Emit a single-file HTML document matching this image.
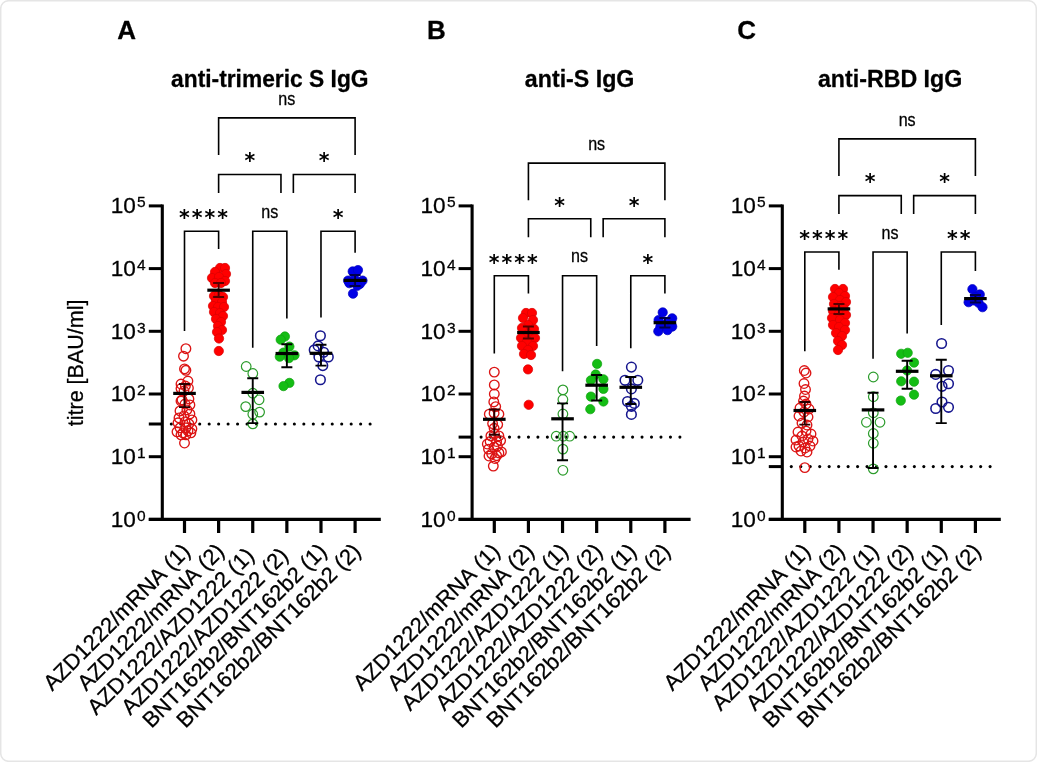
<!DOCTYPE html>
<html><head><meta charset="utf-8"><title>Antibody titres</title>
<style>html,body{margin:0;padding:0;background:#fff;}body{width:1037px;height:762px;position:relative;overflow:hidden;}svg text{stroke:#000;stroke-width:0.28px;stroke-linejoin:round;}svg text.ast{stroke:none;}</style>
</head><body>
<svg width="1037" height="762" viewBox="0 0 1037 762" style="position:absolute;left:0;top:0;will-change:transform">
<rect x="0.7" y="0.7" width="1035.6" height="760.6" rx="8" ry="8" fill="#fff" stroke="#e5e5e5" stroke-width="1.5"/>
<line x1="162.3" y1="204.5" x2="162.3" y2="520.9" stroke="#000" stroke-width="3.1"/>
<line x1="148.8" y1="519.4" x2="162.3" y2="519.4" stroke="#000" stroke-width="3"/>
<text x="145.7" y="526.8" text-anchor="end" font-size="22.6" font-family="'Liberation Sans', Arial, sans-serif">10<tspan font-size="15.5" dx="1.3" dy="-6.1">0</tspan></text>
<line x1="148.8" y1="456.7" x2="162.3" y2="456.7" stroke="#000" stroke-width="3"/>
<text x="145.7" y="464.1" text-anchor="end" font-size="22.6" font-family="'Liberation Sans', Arial, sans-serif">10<tspan font-size="15.5" dx="1.3" dy="-6.1">1</tspan></text>
<line x1="148.8" y1="394" x2="162.3" y2="394" stroke="#000" stroke-width="3"/>
<text x="145.7" y="401.4" text-anchor="end" font-size="22.6" font-family="'Liberation Sans', Arial, sans-serif">10<tspan font-size="15.5" dx="1.3" dy="-6.1">2</tspan></text>
<line x1="148.8" y1="331.3" x2="162.3" y2="331.3" stroke="#000" stroke-width="3"/>
<text x="145.7" y="338.7" text-anchor="end" font-size="22.6" font-family="'Liberation Sans', Arial, sans-serif">10<tspan font-size="15.5" dx="1.3" dy="-6.1">3</tspan></text>
<line x1="148.8" y1="268.6" x2="162.3" y2="268.6" stroke="#000" stroke-width="3"/>
<text x="145.7" y="276" text-anchor="end" font-size="22.6" font-family="'Liberation Sans', Arial, sans-serif">10<tspan font-size="15.5" dx="1.3" dy="-6.1">4</tspan></text>
<line x1="148.8" y1="205.9" x2="162.3" y2="205.9" stroke="#000" stroke-width="3"/>
<text x="145.7" y="213.3" text-anchor="end" font-size="22.6" font-family="'Liberation Sans', Arial, sans-serif">10<tspan font-size="15.5" dx="1.3" dy="-6.1">5</tspan></text>
<line x1="148.8" y1="424" x2="162.3" y2="424" stroke="#000" stroke-width="3"/>
<line x1="148.8" y1="519.4" x2="380.8" y2="519.4" stroke="#000" stroke-width="3.1"/>
<line x1="184.5" y1="519.4" x2="184.5" y2="533" stroke="#000" stroke-width="3.2"/>
<line x1="218.62" y1="519.4" x2="218.62" y2="533" stroke="#000" stroke-width="3.2"/>
<line x1="252.74" y1="519.4" x2="252.74" y2="533" stroke="#000" stroke-width="3.2"/>
<line x1="286.86" y1="519.4" x2="286.86" y2="533" stroke="#000" stroke-width="3.2"/>
<line x1="320.98" y1="519.4" x2="320.98" y2="533" stroke="#000" stroke-width="3.2"/>
<line x1="355.1" y1="519.4" x2="355.1" y2="533" stroke="#000" stroke-width="3.2"/>
<text transform="translate(191.4,552.6) rotate(-45)" text-anchor="end" font-size="22" font-family="'Liberation Sans', Arial, sans-serif" style="font-kerning:none">AZD1222/mRNA (1)</text>
<text transform="translate(225.52,552.6) rotate(-45)" text-anchor="end" font-size="22" font-family="'Liberation Sans', Arial, sans-serif" style="font-kerning:none">AZD1222/mRNA (2)</text>
<text transform="translate(255.33,556.91) rotate(-45)" text-anchor="end" font-size="22" font-family="'Liberation Sans', Arial, sans-serif" style="font-kerning:none">AZD1222/AZD1222 (1)</text>
<text transform="translate(289.45,556.91) rotate(-45)" text-anchor="end" font-size="22" font-family="'Liberation Sans', Arial, sans-serif" style="font-kerning:none">AZD1222/AZD1222 (2)</text>
<text transform="translate(327.88,552.6) rotate(-45)" text-anchor="end" font-size="22" font-family="'Liberation Sans', Arial, sans-serif" style="font-kerning:none">BNT162b2/BNT162b2 (1)</text>
<text transform="translate(362,552.6) rotate(-45)" text-anchor="end" font-size="22" font-family="'Liberation Sans', Arial, sans-serif" style="font-kerning:none">BNT162b2/BNT162b2 (2)</text>
<g fill="#000"><circle cx="171.3" cy="424" r="1.55"/><circle cx="180.77" cy="424" r="1.55"/><circle cx="190.23" cy="424" r="1.55"/><circle cx="199.7" cy="424" r="1.55"/><circle cx="209.17" cy="424" r="1.55"/><circle cx="218.64" cy="424" r="1.55"/><circle cx="228.1" cy="424" r="1.55"/><circle cx="237.57" cy="424" r="1.55"/><circle cx="247.04" cy="424" r="1.55"/><circle cx="256.5" cy="424" r="1.55"/><circle cx="265.97" cy="424" r="1.55"/><circle cx="275.44" cy="424" r="1.55"/><circle cx="284.9" cy="424" r="1.55"/><circle cx="294.37" cy="424" r="1.55"/><circle cx="303.84" cy="424" r="1.55"/><circle cx="313.31" cy="424" r="1.55"/><circle cx="322.77" cy="424" r="1.55"/><circle cx="332.24" cy="424" r="1.55"/><circle cx="341.71" cy="424" r="1.55"/><circle cx="351.17" cy="424" r="1.55"/><circle cx="360.64" cy="424" r="1.55"/><circle cx="370.11" cy="424" r="1.55"/></g>
<g fill="none" stroke="#dc1414" stroke-width="1.35"><circle cx="185.9" cy="348.7" r="4.8"/><circle cx="183.5" cy="356.2" r="4.8"/><circle cx="184.5" cy="368.9" r="4.8"/><circle cx="185.9" cy="370.3" r="4.8"/><circle cx="187.9" cy="381" r="4.8"/><circle cx="181" cy="384" r="4.8"/><circle cx="185.4" cy="386" r="4.8"/><circle cx="188.4" cy="388" r="4.8"/><circle cx="181" cy="388.5" r="4.8"/><circle cx="184" cy="391" r="4.8"/><circle cx="182" cy="399.9" r="4.8"/><circle cx="188.9" cy="398.9" r="4.8"/><circle cx="181" cy="401" r="4.8"/><circle cx="189.9" cy="404.9" r="4.8"/><circle cx="185" cy="404" r="4.8"/><circle cx="180" cy="410.9" r="4.8"/><circle cx="186.9" cy="409.9" r="4.8"/><circle cx="189.9" cy="413.9" r="4.8"/><circle cx="179" cy="417.9" r="4.8"/><circle cx="184" cy="415.9" r="4.8"/><circle cx="191.9" cy="419.9" r="4.8"/><circle cx="178" cy="422.8" r="4.8"/><circle cx="185" cy="421.9" r="4.8"/><circle cx="188.9" cy="423.8" r="4.8"/><circle cx="180" cy="427.8" r="4.8"/><circle cx="185.9" cy="427.8" r="4.8"/><circle cx="191.9" cy="428.8" r="4.8"/><circle cx="177" cy="431.8" r="4.8"/><circle cx="183" cy="432.8" r="4.8"/><circle cx="190.9" cy="432.8" r="4.8"/><circle cx="188" cy="430.8" r="4.8"/><circle cx="181" cy="434.8" r="4.8"/><circle cx="185.9" cy="434.8" r="4.8"/><circle cx="184.5" cy="443" r="4.8"/></g>
<g fill="#ff0000" stroke="#d80000" stroke-width="0.7"><circle cx="220" cy="268" r="4.65"/><circle cx="225" cy="268" r="4.65"/><circle cx="215" cy="272" r="4.65"/><circle cx="226" cy="274" r="4.65"/><circle cx="212" cy="278" r="4.65"/><circle cx="219" cy="277" r="4.65"/><circle cx="225" cy="281" r="4.65"/><circle cx="215" cy="283" r="4.65"/><circle cx="221" cy="283" r="4.65"/><circle cx="214" cy="296" r="4.65"/><circle cx="219" cy="295" r="4.65"/><circle cx="223" cy="297" r="4.65"/><circle cx="216" cy="300" r="4.65"/><circle cx="222" cy="302" r="4.65"/><circle cx="213" cy="306" r="4.65"/><circle cx="218" cy="307" r="4.65"/><circle cx="224" cy="307" r="4.65"/><circle cx="214" cy="312" r="4.65"/><circle cx="220" cy="313" r="4.65"/><circle cx="223" cy="316" r="4.65"/><circle cx="216" cy="319" r="4.65"/><circle cx="221" cy="322" r="4.65"/><circle cx="218" cy="326" r="4.65"/><circle cx="222" cy="330" r="4.65"/><circle cx="217" cy="332" r="4.65"/><circle cx="219" cy="338.5" r="4.65"/><circle cx="218.8" cy="351" r="4.65"/></g>
<g fill="none" stroke="#2c9c2c" stroke-width="1.2"><circle cx="246.2" cy="366.5" r="4.8"/><circle cx="252.8" cy="373.5" r="4.8"/><circle cx="252.8" cy="393.2" r="4.8"/><circle cx="259.1" cy="399.8" r="4.8"/><circle cx="245.7" cy="406.6" r="4.8"/><circle cx="252.8" cy="414.2" r="4.8"/><circle cx="259.6" cy="412.1" r="4.8"/><circle cx="252.8" cy="423.9" r="4.8"/></g>
<g fill="#14bd14" stroke="#10a010" stroke-width="0.7"><circle cx="284.9" cy="336.5" r="4.65"/><circle cx="280.7" cy="339.7" r="4.65"/><circle cx="289.4" cy="346.6" r="4.65"/><circle cx="283.5" cy="352.6" r="4.65"/><circle cx="279.8" cy="356.7" r="4.65"/><circle cx="294.5" cy="355.3" r="4.65"/><circle cx="289" cy="358.1" r="4.65"/><circle cx="289.4" cy="382.9" r="4.65"/><circle cx="283.5" cy="386.1" r="4.65"/></g>
<g fill="none" stroke="#16168e" stroke-width="1.55"><circle cx="320.4" cy="335.7" r="4.8"/><circle cx="318.1" cy="345.9" r="4.8"/><circle cx="314.2" cy="349.9" r="4.8"/><circle cx="323.6" cy="352.2" r="4.8"/><circle cx="318.9" cy="357" r="4.8"/><circle cx="328.3" cy="357" r="4.8"/><circle cx="322.8" cy="365.6" r="4.8"/><circle cx="320.4" cy="379.7" r="4.8"/></g>
<g fill="#0000e6" stroke="#0000c0" stroke-width="0.7"><circle cx="352.7" cy="271.4" r="4.65"/><circle cx="358" cy="270.1" r="4.65"/><circle cx="348.1" cy="280.6" r="4.65"/><circle cx="362.5" cy="280.6" r="4.65"/><circle cx="354.7" cy="279.3" r="4.65"/><circle cx="349.4" cy="283.2" r="4.65"/><circle cx="359.9" cy="283.9" r="4.65"/><circle cx="357.3" cy="285.8" r="4.65"/><circle cx="353" cy="293.7" r="4.65"/></g>
<path d="M184.5 384V407.1M179 384H190M179 407.1H190" fill="none" stroke="#2a0000" stroke-width="1.9"/>
<line x1="173.2" y1="393.4" x2="195.8" y2="393.4" stroke="#000" stroke-width="3.2"/>
<path d="M218.62 283V297M213.12 283H224.12M213.12 297H224.12" fill="none" stroke="#5a0000" stroke-width="1.9"/>
<line x1="207.32" y1="290.2" x2="229.92" y2="290.2" stroke="#000" stroke-width="3.2"/>
<path d="M252.74 378.3V423.1M247.24 378.3H258.24M247.24 423.1H258.24" fill="none" stroke="#000" stroke-width="1.9"/>
<line x1="241.44" y1="392.4" x2="264.04" y2="392.4" stroke="#000" stroke-width="3.2"/>
<path d="M286.86 344.3V367.3M281.36 344.3H292.36M281.36 367.3H292.36" fill="none" stroke="#000" stroke-width="1.9"/>
<line x1="275.56" y1="353.5" x2="298.16" y2="353.5" stroke="#000" stroke-width="3.2"/>
<path d="M320.98 344.8V365.6M315.48 344.8H326.48M315.48 365.6H326.48" fill="none" stroke="#000" stroke-width="1.9"/>
<line x1="309.68" y1="353.3" x2="332.28" y2="353.3" stroke="#000" stroke-width="3.2"/>
<path d="M355.1 275V286M349.6 275H360.6M349.6 286H360.6" fill="none" stroke="#00004a" stroke-width="1.9"/>
<line x1="343.8" y1="280.4" x2="366.4" y2="280.4" stroke="#000" stroke-width="3.2"/>
<path d="M184.5 330.9V231.2H218.62V248.9" fill="none" stroke="#000" stroke-width="1.6"/>
<path d="M252.74 347.7V231.2H286.86V318.4" fill="none" stroke="#000" stroke-width="1.6"/>
<path d="M320.98 317.4V231.2H355.1V252.8" fill="none" stroke="#000" stroke-width="1.6"/>
<path d="M218.62 193V174.5H280.96V193" fill="none" stroke="#000" stroke-width="1.6"/>
<path d="M293.36 193V174.5H355.1V193" fill="none" stroke="#000" stroke-width="1.6"/>
<path d="M218.62 155.1V117.9H355.1V155.1" fill="none" stroke="#000" stroke-width="1.6"/>
<text class="ast" x="204.46" y="224.9" text-anchor="middle" font-size="20.5" font-weight="bold" font-family="'DejaVu Sans', sans-serif" letter-spacing="2">****</text>
<text transform="translate(269.8,217.7) scale(0.92,1)" text-anchor="middle" font-size="17.5" font-family="'Liberation Sans', Arial, sans-serif">ns</text>
<text class="ast" x="339.04" y="224.9" text-anchor="middle" font-size="20.5" font-weight="bold" font-family="'DejaVu Sans', sans-serif" letter-spacing="2">*</text>
<text class="ast" x="250.79" y="168.2" text-anchor="middle" font-size="20.5" font-weight="bold" font-family="'DejaVu Sans', sans-serif" letter-spacing="2">*</text>
<text class="ast" x="325.23" y="168.2" text-anchor="middle" font-size="20.5" font-weight="bold" font-family="'DejaVu Sans', sans-serif" letter-spacing="2">*</text>
<text transform="translate(286.86,104.9) scale(0.92,1)" text-anchor="middle" font-size="17.5" font-family="'Liberation Sans', Arial, sans-serif">ns</text>
<text x="269.8" y="87.3" text-anchor="middle" font-size="23.2" font-weight="bold" font-family="'Liberation Sans', Arial, sans-serif" textLength="197.5" lengthAdjust="spacingAndGlyphs">anti-trimeric S IgG</text>
<text x="117.3" y="38.9" font-size="26" font-weight="bold" font-family="'Liberation Sans', Arial, sans-serif">A</text>
<line x1="472.1" y1="204.5" x2="472.1" y2="520.9" stroke="#000" stroke-width="3.1"/>
<line x1="458.6" y1="519.4" x2="472.1" y2="519.4" stroke="#000" stroke-width="3"/>
<text x="455.5" y="526.8" text-anchor="end" font-size="22.6" font-family="'Liberation Sans', Arial, sans-serif">10<tspan font-size="15.5" dx="1.3" dy="-6.1">0</tspan></text>
<line x1="458.6" y1="456.7" x2="472.1" y2="456.7" stroke="#000" stroke-width="3"/>
<text x="455.5" y="464.1" text-anchor="end" font-size="22.6" font-family="'Liberation Sans', Arial, sans-serif">10<tspan font-size="15.5" dx="1.3" dy="-6.1">1</tspan></text>
<line x1="458.6" y1="394" x2="472.1" y2="394" stroke="#000" stroke-width="3"/>
<text x="455.5" y="401.4" text-anchor="end" font-size="22.6" font-family="'Liberation Sans', Arial, sans-serif">10<tspan font-size="15.5" dx="1.3" dy="-6.1">2</tspan></text>
<line x1="458.6" y1="331.3" x2="472.1" y2="331.3" stroke="#000" stroke-width="3"/>
<text x="455.5" y="338.7" text-anchor="end" font-size="22.6" font-family="'Liberation Sans', Arial, sans-serif">10<tspan font-size="15.5" dx="1.3" dy="-6.1">3</tspan></text>
<line x1="458.6" y1="268.6" x2="472.1" y2="268.6" stroke="#000" stroke-width="3"/>
<text x="455.5" y="276" text-anchor="end" font-size="22.6" font-family="'Liberation Sans', Arial, sans-serif">10<tspan font-size="15.5" dx="1.3" dy="-6.1">4</tspan></text>
<line x1="458.6" y1="205.9" x2="472.1" y2="205.9" stroke="#000" stroke-width="3"/>
<text x="455.5" y="213.3" text-anchor="end" font-size="22.6" font-family="'Liberation Sans', Arial, sans-serif">10<tspan font-size="15.5" dx="1.3" dy="-6.1">5</tspan></text>
<line x1="458.6" y1="437.1" x2="472.1" y2="437.1" stroke="#000" stroke-width="3"/>
<line x1="458.6" y1="519.4" x2="690.6" y2="519.4" stroke="#000" stroke-width="3.1"/>
<line x1="494.3" y1="519.4" x2="494.3" y2="533" stroke="#000" stroke-width="3.2"/>
<line x1="528.42" y1="519.4" x2="528.42" y2="533" stroke="#000" stroke-width="3.2"/>
<line x1="562.54" y1="519.4" x2="562.54" y2="533" stroke="#000" stroke-width="3.2"/>
<line x1="596.66" y1="519.4" x2="596.66" y2="533" stroke="#000" stroke-width="3.2"/>
<line x1="630.78" y1="519.4" x2="630.78" y2="533" stroke="#000" stroke-width="3.2"/>
<line x1="664.9" y1="519.4" x2="664.9" y2="533" stroke="#000" stroke-width="3.2"/>
<text transform="translate(501.2,552.6) rotate(-45)" text-anchor="end" font-size="22" font-family="'Liberation Sans', Arial, sans-serif" style="font-kerning:none">AZD1222/mRNA (1)</text>
<text transform="translate(535.32,552.6) rotate(-45)" text-anchor="end" font-size="22" font-family="'Liberation Sans', Arial, sans-serif" style="font-kerning:none">AZD1222/mRNA (2)</text>
<text transform="translate(569.44,552.6) rotate(-45)" text-anchor="end" font-size="22" font-family="'Liberation Sans', Arial, sans-serif" style="font-kerning:none">AZD1222/AZD1222 (1)</text>
<text transform="translate(603.56,552.6) rotate(-45)" text-anchor="end" font-size="22" font-family="'Liberation Sans', Arial, sans-serif" style="font-kerning:none">AZD1222/AZD1222 (2)</text>
<text transform="translate(637.68,552.6) rotate(-45)" text-anchor="end" font-size="22" font-family="'Liberation Sans', Arial, sans-serif" style="font-kerning:none">BNT162b2/BNT162b2 (1)</text>
<text transform="translate(671.8,552.6) rotate(-45)" text-anchor="end" font-size="22" font-family="'Liberation Sans', Arial, sans-serif" style="font-kerning:none">BNT162b2/BNT162b2 (2)</text>
<g fill="#000"><circle cx="481.1" cy="437.1" r="1.55"/><circle cx="490.57" cy="437.1" r="1.55"/><circle cx="500.03" cy="437.1" r="1.55"/><circle cx="509.5" cy="437.1" r="1.55"/><circle cx="518.97" cy="437.1" r="1.55"/><circle cx="528.44" cy="437.1" r="1.55"/><circle cx="537.9" cy="437.1" r="1.55"/><circle cx="547.37" cy="437.1" r="1.55"/><circle cx="556.84" cy="437.1" r="1.55"/><circle cx="566.3" cy="437.1" r="1.55"/><circle cx="575.77" cy="437.1" r="1.55"/><circle cx="585.24" cy="437.1" r="1.55"/><circle cx="594.7" cy="437.1" r="1.55"/><circle cx="604.17" cy="437.1" r="1.55"/><circle cx="613.64" cy="437.1" r="1.55"/><circle cx="623.11" cy="437.1" r="1.55"/><circle cx="632.57" cy="437.1" r="1.55"/><circle cx="642.04" cy="437.1" r="1.55"/><circle cx="651.51" cy="437.1" r="1.55"/><circle cx="660.97" cy="437.1" r="1.55"/><circle cx="670.44" cy="437.1" r="1.55"/><circle cx="679.91" cy="437.1" r="1.55"/></g>
<g fill="none" stroke="#dc1414" stroke-width="1.35"><circle cx="494.3" cy="372.1" r="4.8"/><circle cx="494.3" cy="384.9" r="4.8"/><circle cx="494.3" cy="394" r="4.8"/><circle cx="493.8" cy="401.9" r="4.8"/><circle cx="495.7" cy="406.6" r="4.8"/><circle cx="489.3" cy="414.2" r="4.8"/><circle cx="494.1" cy="413.2" r="4.8"/><circle cx="498.9" cy="414.2" r="4.8"/><circle cx="492.6" cy="423.6" r="4.8"/><circle cx="497.7" cy="424.6" r="4.8"/><circle cx="494.1" cy="428.3" r="4.8"/><circle cx="490.9" cy="435.9" r="4.8"/><circle cx="498.9" cy="435.9" r="4.8"/><circle cx="494.5" cy="434" r="4.8"/><circle cx="490.1" cy="441.5" r="4.8"/><circle cx="496.6" cy="441.5" r="4.8"/><circle cx="500.6" cy="440.6" r="4.8"/><circle cx="487.3" cy="444" r="4.8"/><circle cx="488.5" cy="449.1" r="4.8"/><circle cx="494.1" cy="447.2" r="4.8"/><circle cx="501.4" cy="451.9" r="4.8"/><circle cx="497.5" cy="446" r="4.8"/><circle cx="491.7" cy="453.8" r="4.8"/><circle cx="496.6" cy="455.7" r="4.8"/><circle cx="498.9" cy="452.9" r="4.8"/><circle cx="489" cy="456" r="4.8"/><circle cx="494.9" cy="458.5" r="4.8"/><circle cx="493.3" cy="466.1" r="4.8"/></g>
<g fill="#ff0000" stroke="#d80000" stroke-width="0.7"><circle cx="526" cy="313" r="4.65"/><circle cx="532" cy="313" r="4.65"/><circle cx="523" cy="318" r="4.65"/><circle cx="533" cy="320" r="4.65"/><circle cx="528" cy="325" r="4.65"/><circle cx="522" cy="328" r="4.65"/><circle cx="534" cy="329" r="4.65"/><circle cx="528" cy="334" r="4.65"/><circle cx="521" cy="338" r="4.65"/><circle cx="535" cy="338" r="4.65"/><circle cx="527" cy="341" r="4.65"/><circle cx="522" cy="346" r="4.65"/><circle cx="533" cy="346" r="4.65"/><circle cx="528" cy="350" r="4.65"/><circle cx="524" cy="354" r="4.65"/><circle cx="531" cy="355" r="4.65"/><circle cx="528" cy="369.4" r="4.65"/><circle cx="528.7" cy="404.8" r="4.65"/></g>
<g fill="none" stroke="#2c9c2c" stroke-width="1.2"><circle cx="562.9" cy="389.9" r="4.8"/><circle cx="562.9" cy="399.5" r="4.8"/><circle cx="562.9" cy="414" r="4.8"/><circle cx="556.2" cy="436.2" r="4.8"/><circle cx="563.3" cy="436.2" r="4.8"/><circle cx="569.7" cy="436.2" r="4.8"/><circle cx="562.9" cy="449.1" r="4.8"/><circle cx="562.9" cy="470.3" r="4.8"/></g>
<g fill="#14bd14" stroke="#10a010" stroke-width="0.7"><circle cx="597.1" cy="363.9" r="4.65"/><circle cx="595.7" cy="374.5" r="4.65"/><circle cx="590.9" cy="380.3" r="4.65"/><circle cx="603.4" cy="379.3" r="4.65"/><circle cx="603.4" cy="388.9" r="4.65"/><circle cx="590.9" cy="396.6" r="4.65"/><circle cx="603.4" cy="401.5" r="4.65"/><circle cx="590.3" cy="409.2" r="4.65"/></g>
<g fill="none" stroke="#16168e" stroke-width="1.55"><circle cx="631.4" cy="367.1" r="4.8"/><circle cx="625" cy="380.3" r="4.8"/><circle cx="637.8" cy="380.3" r="4.8"/><circle cx="631.4" cy="388.9" r="4.8"/><circle cx="627.5" cy="401.5" r="4.8"/><circle cx="634.3" cy="403.4" r="4.8"/><circle cx="631.4" cy="406.3" r="4.8"/><circle cx="631.4" cy="414.4" r="4.8"/></g>
<g fill="#0000e6" stroke="#0000c0" stroke-width="0.7"><circle cx="662.7" cy="312.4" r="4.65"/><circle cx="658.6" cy="320.1" r="4.65"/><circle cx="672.2" cy="318.3" r="4.65"/><circle cx="666.9" cy="323.6" r="4.65"/><circle cx="672.2" cy="326.6" r="4.65"/><circle cx="660.4" cy="326.6" r="4.65"/><circle cx="658.3" cy="331.3" r="4.65"/><circle cx="667.5" cy="330.1" r="4.65"/></g>
<path d="M494.3 409.5V434.7M488.8 409.5H499.8M488.8 434.7H499.8" fill="none" stroke="#2a0000" stroke-width="1.9"/>
<line x1="483" y1="419.3" x2="505.6" y2="419.3" stroke="#000" stroke-width="3.2"/>
<path d="M528.42 326.5V338.5M522.92 326.5H533.92M522.92 338.5H533.92" fill="none" stroke="#5a0000" stroke-width="1.9"/>
<line x1="517.12" y1="332.5" x2="539.72" y2="332.5" stroke="#000" stroke-width="3.2"/>
<path d="M562.54 403.4V460.3M557.04 403.4H568.04M557.04 460.3H568.04" fill="none" stroke="#000" stroke-width="1.9"/>
<line x1="551.24" y1="418.8" x2="573.84" y2="418.8" stroke="#000" stroke-width="3.2"/>
<path d="M596.66 375V400.5M591.16 375H602.16M591.16 400.5H602.16" fill="none" stroke="#000" stroke-width="1.9"/>
<line x1="585.36" y1="385.2" x2="607.96" y2="385.2" stroke="#000" stroke-width="3.2"/>
<path d="M630.78 377V404M625.28 377H636.28M625.28 404H636.28" fill="none" stroke="#000" stroke-width="1.9"/>
<line x1="619.48" y1="387.3" x2="642.08" y2="387.3" stroke="#000" stroke-width="3.2"/>
<path d="M664.9 318V327.5M659.4 318H670.4M659.4 327.5H670.4" fill="none" stroke="#00004a" stroke-width="1.9"/>
<line x1="653.6" y1="322.7" x2="676.2" y2="322.7" stroke="#000" stroke-width="3.2"/>
<path d="M494.3 353.5V275.8H528.42V293.6" fill="none" stroke="#000" stroke-width="1.6"/>
<path d="M562.54 371.3V275.8H596.66V346.1" fill="none" stroke="#000" stroke-width="1.6"/>
<path d="M630.78 348.2V275.8H664.9V293.6" fill="none" stroke="#000" stroke-width="1.6"/>
<path d="M528.42 237.2V218.7H590.76V237.2" fill="none" stroke="#000" stroke-width="1.6"/>
<path d="M603.16 237.2V218.7H664.9V237.2" fill="none" stroke="#000" stroke-width="1.6"/>
<path d="M528.42 200.3V163.1H664.9V200.3" fill="none" stroke="#000" stroke-width="1.6"/>
<text class="ast" x="514.26" y="269.5" text-anchor="middle" font-size="20.5" font-weight="bold" font-family="'DejaVu Sans', sans-serif" letter-spacing="2">****</text>
<text transform="translate(579.6,262.3) scale(0.92,1)" text-anchor="middle" font-size="17.5" font-family="'Liberation Sans', Arial, sans-serif">ns</text>
<text class="ast" x="648.84" y="269.5" text-anchor="middle" font-size="20.5" font-weight="bold" font-family="'DejaVu Sans', sans-serif" letter-spacing="2">*</text>
<text class="ast" x="560.59" y="213.4" text-anchor="middle" font-size="20.5" font-weight="bold" font-family="'DejaVu Sans', sans-serif" letter-spacing="2">*</text>
<text class="ast" x="635.03" y="213.4" text-anchor="middle" font-size="20.5" font-weight="bold" font-family="'DejaVu Sans', sans-serif" letter-spacing="2">*</text>
<text transform="translate(596.66,150.1) scale(0.92,1)" text-anchor="middle" font-size="17.5" font-family="'Liberation Sans', Arial, sans-serif">ns</text>
<text x="579.6" y="87.3" text-anchor="middle" font-size="23.2" font-weight="bold" font-family="'Liberation Sans', Arial, sans-serif">anti-S IgG</text>
<text x="427.1" y="38.9" font-size="26" font-weight="bold" font-family="'Liberation Sans', Arial, sans-serif">B</text>
<line x1="782.3" y1="204.5" x2="782.3" y2="520.9" stroke="#000" stroke-width="3.1"/>
<line x1="768.8" y1="519.4" x2="782.3" y2="519.4" stroke="#000" stroke-width="3"/>
<text x="765.7" y="526.8" text-anchor="end" font-size="22.6" font-family="'Liberation Sans', Arial, sans-serif">10<tspan font-size="15.5" dx="1.3" dy="-6.1">0</tspan></text>
<line x1="768.8" y1="456.7" x2="782.3" y2="456.7" stroke="#000" stroke-width="3"/>
<text x="765.7" y="464.1" text-anchor="end" font-size="22.6" font-family="'Liberation Sans', Arial, sans-serif">10<tspan font-size="15.5" dx="1.3" dy="-6.1">1</tspan></text>
<line x1="768.8" y1="394" x2="782.3" y2="394" stroke="#000" stroke-width="3"/>
<text x="765.7" y="401.4" text-anchor="end" font-size="22.6" font-family="'Liberation Sans', Arial, sans-serif">10<tspan font-size="15.5" dx="1.3" dy="-6.1">2</tspan></text>
<line x1="768.8" y1="331.3" x2="782.3" y2="331.3" stroke="#000" stroke-width="3"/>
<text x="765.7" y="338.7" text-anchor="end" font-size="22.6" font-family="'Liberation Sans', Arial, sans-serif">10<tspan font-size="15.5" dx="1.3" dy="-6.1">3</tspan></text>
<line x1="768.8" y1="268.6" x2="782.3" y2="268.6" stroke="#000" stroke-width="3"/>
<text x="765.7" y="276" text-anchor="end" font-size="22.6" font-family="'Liberation Sans', Arial, sans-serif">10<tspan font-size="15.5" dx="1.3" dy="-6.1">4</tspan></text>
<line x1="768.8" y1="205.9" x2="782.3" y2="205.9" stroke="#000" stroke-width="3"/>
<text x="765.7" y="213.3" text-anchor="end" font-size="22.6" font-family="'Liberation Sans', Arial, sans-serif">10<tspan font-size="15.5" dx="1.3" dy="-6.1">5</tspan></text>
<line x1="768.8" y1="466.6" x2="782.3" y2="466.6" stroke="#000" stroke-width="3"/>
<line x1="768.8" y1="519.4" x2="1000.8" y2="519.4" stroke="#000" stroke-width="3.1"/>
<line x1="804.8" y1="519.4" x2="804.8" y2="533" stroke="#000" stroke-width="3.2"/>
<line x1="838.92" y1="519.4" x2="838.92" y2="533" stroke="#000" stroke-width="3.2"/>
<line x1="873.04" y1="519.4" x2="873.04" y2="533" stroke="#000" stroke-width="3.2"/>
<line x1="907.16" y1="519.4" x2="907.16" y2="533" stroke="#000" stroke-width="3.2"/>
<line x1="941.28" y1="519.4" x2="941.28" y2="533" stroke="#000" stroke-width="3.2"/>
<line x1="975.4" y1="519.4" x2="975.4" y2="533" stroke="#000" stroke-width="3.2"/>
<text transform="translate(811.7,552.6) rotate(-45)" text-anchor="end" font-size="22" font-family="'Liberation Sans', Arial, sans-serif" style="font-kerning:none">AZD1222/mRNA (1)</text>
<text transform="translate(845.82,552.6) rotate(-45)" text-anchor="end" font-size="22" font-family="'Liberation Sans', Arial, sans-serif" style="font-kerning:none">AZD1222/mRNA (2)</text>
<text transform="translate(879.94,552.6) rotate(-45)" text-anchor="end" font-size="22" font-family="'Liberation Sans', Arial, sans-serif" style="font-kerning:none">AZD1222/AZD1222 (1)</text>
<text transform="translate(914.06,552.6) rotate(-45)" text-anchor="end" font-size="22" font-family="'Liberation Sans', Arial, sans-serif" style="font-kerning:none">AZD1222/AZD1222 (2)</text>
<text transform="translate(948.18,552.6) rotate(-45)" text-anchor="end" font-size="22" font-family="'Liberation Sans', Arial, sans-serif" style="font-kerning:none">BNT162b2/BNT162b2 (1)</text>
<text transform="translate(982.3,552.6) rotate(-45)" text-anchor="end" font-size="22" font-family="'Liberation Sans', Arial, sans-serif" style="font-kerning:none">BNT162b2/BNT162b2 (2)</text>
<g fill="#000"><circle cx="791.3" cy="466.6" r="1.55"/><circle cx="800.77" cy="466.6" r="1.55"/><circle cx="810.23" cy="466.6" r="1.55"/><circle cx="819.7" cy="466.6" r="1.55"/><circle cx="829.17" cy="466.6" r="1.55"/><circle cx="838.63" cy="466.6" r="1.55"/><circle cx="848.1" cy="466.6" r="1.55"/><circle cx="857.57" cy="466.6" r="1.55"/><circle cx="867.04" cy="466.6" r="1.55"/><circle cx="876.5" cy="466.6" r="1.55"/><circle cx="885.97" cy="466.6" r="1.55"/><circle cx="895.44" cy="466.6" r="1.55"/><circle cx="904.9" cy="466.6" r="1.55"/><circle cx="914.37" cy="466.6" r="1.55"/><circle cx="923.84" cy="466.6" r="1.55"/><circle cx="933.3" cy="466.6" r="1.55"/><circle cx="942.77" cy="466.6" r="1.55"/><circle cx="952.24" cy="466.6" r="1.55"/><circle cx="961.71" cy="466.6" r="1.55"/><circle cx="971.17" cy="466.6" r="1.55"/><circle cx="980.64" cy="466.6" r="1.55"/><circle cx="990.11" cy="466.6" r="1.55"/></g>
<g fill="none" stroke="#dc1414" stroke-width="1.35"><circle cx="804.3" cy="370.5" r="4.8"/><circle cx="806" cy="373" r="4.8"/><circle cx="804" cy="383.5" r="4.8"/><circle cx="805.5" cy="389.5" r="4.8"/><circle cx="804.5" cy="396" r="4.8"/><circle cx="803.5" cy="401" r="4.8"/><circle cx="806" cy="404" r="4.8"/><circle cx="800" cy="408" r="4.8"/><circle cx="809" cy="409" r="4.8"/><circle cx="804" cy="412" r="4.8"/><circle cx="799" cy="416" r="4.8"/><circle cx="808" cy="417" r="4.8"/><circle cx="802" cy="423" r="4.8"/><circle cx="807" cy="425" r="4.8"/><circle cx="798" cy="432" r="4.8"/><circle cx="806" cy="431" r="4.8"/><circle cx="811" cy="434" r="4.8"/><circle cx="802" cy="436" r="4.8"/><circle cx="796" cy="440" r="4.8"/><circle cx="808" cy="439" r="4.8"/><circle cx="803" cy="442" r="4.8"/><circle cx="799" cy="446" r="4.8"/><circle cx="810" cy="446" r="4.8"/><circle cx="805" cy="448" r="4.8"/><circle cx="801" cy="451" r="4.8"/><circle cx="807" cy="452" r="4.8"/><circle cx="796" cy="447" r="4.8"/><circle cx="813" cy="441" r="4.8"/><circle cx="804.8" cy="467.6" r="4.8"/></g>
<g fill="#ff0000" stroke="#d80000" stroke-width="0.7"><circle cx="835" cy="289" r="4.65"/><circle cx="843" cy="289" r="4.65"/><circle cx="839" cy="293" r="4.65"/><circle cx="845" cy="296" r="4.65"/><circle cx="833" cy="297" r="4.65"/><circle cx="840" cy="300" r="4.65"/><circle cx="846" cy="302" r="4.65"/><circle cx="834" cy="304" r="4.65"/><circle cx="840" cy="306" r="4.65"/><circle cx="844" cy="309" r="4.65"/><circle cx="833" cy="311" r="4.65"/><circle cx="839" cy="314" r="4.65"/><circle cx="846" cy="315" r="4.65"/><circle cx="832" cy="318" r="4.65"/><circle cx="840" cy="320" r="4.65"/><circle cx="845" cy="323" r="4.65"/><circle cx="833" cy="325" r="4.65"/><circle cx="839" cy="327" r="4.65"/><circle cx="845" cy="330" r="4.65"/><circle cx="836" cy="333" r="4.65"/><circle cx="842" cy="336" r="4.65"/><circle cx="838" cy="341" r="4.65"/><circle cx="842" cy="345" r="4.65"/><circle cx="838" cy="350" r="4.65"/></g>
<g fill="none" stroke="#2c9c2c" stroke-width="1.2"><circle cx="873.3" cy="377" r="4.8"/><circle cx="873.3" cy="396.7" r="4.8"/><circle cx="873.3" cy="412.8" r="4.8"/><circle cx="866.4" cy="422.3" r="4.8"/><circle cx="880" cy="422.3" r="4.8"/><circle cx="873.3" cy="433.5" r="4.8"/><circle cx="873.3" cy="443.3" r="4.8"/><circle cx="873.3" cy="468.9" r="4.8"/></g>
<g fill="#14bd14" stroke="#10a010" stroke-width="0.7"><circle cx="901.2" cy="353.8" r="4.65"/><circle cx="907.7" cy="352.8" r="4.65"/><circle cx="914" cy="362.6" r="4.65"/><circle cx="907.1" cy="370.5" r="4.65"/><circle cx="901.2" cy="381.3" r="4.65"/><circle cx="914" cy="381.7" r="4.65"/><circle cx="914" cy="394.7" r="4.65"/><circle cx="900.8" cy="400.6" r="4.65"/></g>
<g fill="none" stroke="#16168e" stroke-width="1.55"><circle cx="941.6" cy="343.5" r="4.8"/><circle cx="948.5" cy="370.5" r="4.8"/><circle cx="935.7" cy="374.4" r="4.8"/><circle cx="948.5" cy="383.7" r="4.8"/><circle cx="942" cy="386.3" r="4.8"/><circle cx="942" cy="402" r="4.8"/><circle cx="935.7" cy="408.5" r="4.8"/><circle cx="948.5" cy="407.3" r="4.8"/></g>
<g fill="#0000e6" stroke="#0000c0" stroke-width="0.7"><circle cx="972.4" cy="289.2" r="4.65"/><circle cx="979.8" cy="294.5" r="4.65"/><circle cx="975.1" cy="296.9" r="4.65"/><circle cx="973.3" cy="300.4" r="4.65"/><circle cx="968.6" cy="302.2" r="4.65"/><circle cx="978.6" cy="302.8" r="4.65"/><circle cx="982.5" cy="307.2" r="4.65"/></g>
<path d="M804.8 402V424.6M799.3 402H810.3M799.3 424.6H810.3" fill="none" stroke="#2a0000" stroke-width="1.9"/>
<line x1="793.5" y1="410.5" x2="816.1" y2="410.5" stroke="#000" stroke-width="3.2"/>
<path d="M838.92 304V314M833.42 304H844.42M833.42 314H844.42" fill="none" stroke="#5a0000" stroke-width="1.9"/>
<line x1="827.62" y1="308.9" x2="850.22" y2="308.9" stroke="#000" stroke-width="3.2"/>
<path d="M873.04 392.8V468M867.54 392.8H878.54M867.54 468H878.54" fill="none" stroke="#000" stroke-width="1.9"/>
<line x1="861.74" y1="409.9" x2="884.34" y2="409.9" stroke="#000" stroke-width="3.2"/>
<path d="M907.16 360.7V388.8M901.66 360.7H912.66M901.66 388.8H912.66" fill="none" stroke="#000" stroke-width="1.9"/>
<line x1="895.86" y1="371.3" x2="918.46" y2="371.3" stroke="#000" stroke-width="3.2"/>
<path d="M941.28 359.7V423.1M935.78 359.7H946.78M935.78 423.1H946.78" fill="none" stroke="#000" stroke-width="1.9"/>
<line x1="929.98" y1="375.8" x2="952.58" y2="375.8" stroke="#000" stroke-width="3.2"/>
<path d="M975.4 295V302.5M969.9 295H980.9M969.9 302.5H980.9" fill="none" stroke="#00004a" stroke-width="1.9"/>
<line x1="964.1" y1="298.6" x2="986.7" y2="298.6" stroke="#000" stroke-width="3.2"/>
<path d="M804.8 351.3V252H838.92V269.8" fill="none" stroke="#000" stroke-width="1.6"/>
<path d="M873.04 358.7V252H907.16V333.5" fill="none" stroke="#000" stroke-width="1.6"/>
<path d="M941.28 325.1V252H975.4V271.1" fill="none" stroke="#000" stroke-width="1.6"/>
<path d="M838.92 214.1V195.6H901.26V214.1" fill="none" stroke="#000" stroke-width="1.6"/>
<path d="M913.66 214.1V195.6H975.4V214.1" fill="none" stroke="#000" stroke-width="1.6"/>
<path d="M838.92 176.1V138.9H975.4V176.1" fill="none" stroke="#000" stroke-width="1.6"/>
<text class="ast" x="824.76" y="245.7" text-anchor="middle" font-size="20.5" font-weight="bold" font-family="'DejaVu Sans', sans-serif" letter-spacing="2">****</text>
<text transform="translate(890.1,238.5) scale(0.92,1)" text-anchor="middle" font-size="17.5" font-family="'Liberation Sans', Arial, sans-serif">ns</text>
<text class="ast" x="959.74" y="245.7" text-anchor="middle" font-size="20.5" font-weight="bold" font-family="'DejaVu Sans', sans-serif" letter-spacing="2">**</text>
<text class="ast" x="871.09" y="189.3" text-anchor="middle" font-size="20.5" font-weight="bold" font-family="'DejaVu Sans', sans-serif" letter-spacing="2">*</text>
<text class="ast" x="945.53" y="189.3" text-anchor="middle" font-size="20.5" font-weight="bold" font-family="'DejaVu Sans', sans-serif" letter-spacing="2">*</text>
<text transform="translate(907.16,125.9) scale(0.92,1)" text-anchor="middle" font-size="17.5" font-family="'Liberation Sans', Arial, sans-serif">ns</text>
<text x="890.1" y="87.3" text-anchor="middle" font-size="23.2" font-weight="bold" font-family="'Liberation Sans', Arial, sans-serif">anti-RBD IgG</text>
<text x="737.3" y="38.9" font-size="26" font-weight="bold" font-family="'Liberation Sans', Arial, sans-serif">C</text>
<text transform="translate(83.3,362.9) rotate(-90)" text-anchor="middle" font-size="21.5" font-family="'Liberation Sans', Arial, sans-serif">titre [BAU/ml]</text>
</svg>
</body></html>
